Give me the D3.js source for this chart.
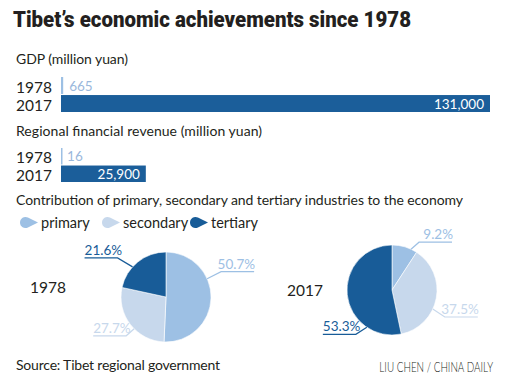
<!DOCTYPE html>
<html>
<head>
<meta charset="utf-8">
<script src="https://cdn.jsdelivr.net/npm/d3@7"></script>
<style>
  body { margin: 0; background: #fff; }
  svg { display: block; font-family: Lato, "Open Sans", sans-serif; }
</style>
</head>
<body>
<div id="chart"></div>
<script>
const years = ["1978", "2017"];
const gdp = [665, 131000];
const revenue = [16, 25900];
const industries = ["primary", "secondary", "tertiary"];
const share1978 = [50.7, 27.7, 21.6];
const share2017 = [9.2, 37.5, 53.3];

const colors = ["#9dc0e4", "#c7d8ec", "#185c98"];
const W = 509, H = 380;

const svg = d3.select("#chart").append("svg").attr("width", W).attr("height", H);

svg.append("text")
  .attr("x", 13).attr("y", 27)
  .attr("textLength", 398).attr("lengthAdjust", "spacingAndGlyphs")
  .style("font-family", "Roboto, sans-serif")
  .style("font-weight", 900).style("font-size", "21.5px").style("fill", "#231f20")
  .text("Tibet\u2019s economic achievements since 1978");

const x = d3.scaleLinear().domain([0, d3.max(gdp)]).range([61, 490]);

function heading(y, txt, len) {
  svg.append("text").attr("x", 16).attr("y", y)
    .attr("textLength", len)
    .style("font-size", "14px").style("fill", "#231f20").text(txt);
}

function barGroup(values, top, bottom) {
  const y = d3.scaleBand().domain(years).range([top, bottom]).paddingInner(0.06);
  const g = svg.append("g");
  g.selectAll("rect").data(values).join("rect")
    .attr("x", x(0))
    .attr("y", (d, i) => y(years[i]))
    .attr("width", d => Math.max(1.5, x(d) - x(0)))
    .attr("height", y.bandwidth())
    .attr("fill", (d, i) => i === 0 ? colors[0] : "#1b5e9a");
  g.selectAll(".yr").data(years).join("text")
    .attr("x", 16).attr("y", d => y(d) + y.bandwidth() - 1)
    .style("font-size", "15.5px").style("fill", "#231f20").text(d => d);
  g.selectAll(".val").data(values).join("text")
    .attr("x", (d, i) => i === 0 ? x(d) + 6 : x(d) - 6)
    .attr("y", (d, i) => y(years[i]) + y.bandwidth() - 3)
    .attr("text-anchor", (d, i) => i === 0 ? "start" : "end")
    .style("font-size", "13.5px")
    .style("fill", (d, i) => i === 0 ? "#9ab8dc" : "#fff")
    .text(d => d3.format(",")(d));
}

heading(64, "GDP (million yuan)", 112);
barGroup(gdp, 77, 112);
heading(136, "Regional financial revenue (million yuan)", 246);
barGroup(revenue, 148, 182);
heading(205, "Contribution of primary, secondary and tertiary industries to the economy", 447);

// legend
const legendX = [20, 102, 190];
function markerPath(x0, cy) {
  const r = 5.5, cx = x0 + r, tx = x0 + 18, d = tx - cx;
  const a = Math.acos(r / d);
  const p1 = [cx + r * Math.cos(a), cy - r * Math.sin(a)];
  const p2 = [cx + r * Math.cos(a), cy + r * Math.sin(a)];
  return `M${tx},${cy}L${p1}A${r},${r} 0 1 0 ${p2}Z`;
}
industries.forEach((name, i) => {
  svg.append("path").attr("d", markerPath(legendX[i], 222.5)).attr("fill", colors[i]);
  svg.append("text").attr("x", legendX[i] + 21).attr("y", 228)
    .style("font-size", "14.5px").style("fill", "#231f20").text(name);
});

// pies
const pie = d3.pie().sort(null).value(d => d);
const radius = 45;
const arc = d3.arc().innerRadius(0).outerRadius(radius);

// leader layout: angle on rim (deg), elbow offset from rim point, side of label
const leaders1978 = [
  { angle: 66, dx: 14, dy: -7, side: 1 },
  { angle: 225, dx: -8, dy: 7, side: -1 },
  { angle: 312, dx: -15, dy: -9, side: -1 }
];
const leaders2017 = [
  { angle: 25, dx: 8, dy: -7, side: 1 },
  { angle: 115, dx: 12, dy: 8, side: 1 },
  { angle: 214, dx: -11, dy: 7, side: -1 }
];

function drawPie(values, cx, cy, year, yearX, yearY, leaders) {
  const g = svg.append("g").attr("transform", `translate(${cx},${cy})`);
  g.selectAll("path").data(pie(values)).join("path")
    .attr("d", arc)
    .attr("fill", (d, i) => colors[i])
    .attr("stroke", "#fff").attr("stroke-width", 0.6);

  leaders.forEach((l, i) => {
    const a = l.angle * Math.PI / 180;
    const sx = radius * Math.sin(a), sy = -radius * Math.cos(a);
    const ex = sx + l.dx, ey = sy + l.dy;
    const endX = ex + l.side * 33;
    g.append("path")
      .attr("d", `M${sx},${sy}L${ex},${ey}L${endX},${ey}`)
      .attr("fill", "none").attr("stroke", colors[i]).attr("stroke-width", 1.2);
    g.append("text")
      .attr("x", l.side > 0 ? endX + 1 : endX)
      .attr("y", ey - 3)
      .attr("text-anchor", l.side > 0 ? "end" : "start")
      .style("font-size", "13.5px").style("fill", colors[i])
      .text(values[i].toFixed(1) + "%");
  });

  svg.append("text").attr("x", yearX).attr("y", yearY)
    .style("font-size", "15.5px").style("fill", "#231f20").text(year);
}

drawPie(share1978, 166, 297, "1978", 30, 293, leaders1978);
drawPie(share2017, 392, 290, "2017", 287, 296, leaders2017);

svg.append("text").attr("x", 16).attr("y", 370)
  .attr("textLength", 204)
  .style("font-size", "14px").style("fill", "#231f20").text("Source: Tibet regional government");
svg.append("g").attr("transform", "translate(493,372) scale(0.76,1)")
  .append("text").attr("text-anchor", "end")
  .style("font-size", "13px").style("font-weight", 300).style("fill", "#231f20")
  .text("LIU CHEN / CHINA DAILY");
</script>
</body>
</html>
